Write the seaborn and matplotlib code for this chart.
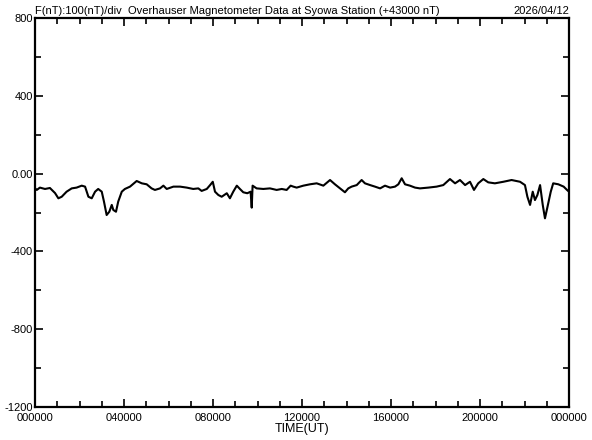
import matplotlib
matplotlib.use("Agg")
import matplotlib.pyplot as plt
import seaborn as sns
import pandas as pd
from matplotlib.ticker import MultipleLocator, FixedLocator

# time (hours UT) and field deviation (nT, relative to +43000 nT baseline)
hours = [0.00, 0.08, 0.22, 0.45, 0.67, 0.90, 1.05, 1.20, 1.42, 1.65, 1.87, 2.10, 2.25, 2.40,
         2.55, 2.70, 2.84, 3.00, 3.10, 3.22, 3.34, 3.45, 3.52, 3.64, 3.74, 3.90, 4.04, 4.27,
         4.57, 4.80, 5.02, 5.24, 5.39, 5.62, 5.77, 5.92, 6.22, 6.52, 6.82, 7.11, 7.34, 7.49,
         7.72, 7.87, 7.99, 8.09, 8.24, 8.39, 8.62, 8.76, 8.91, 9.07, 9.21, 9.36, 9.54, 9.69,
         9.74, 9.78, 9.96, 10.26, 10.56, 10.86, 11.09, 11.31, 11.49, 11.61, 11.76, 12.06,
         12.36, 12.66, 12.96, 13.26, 13.48, 13.71, 13.93, 14.08, 14.23, 14.46, 14.68, 14.83,
         15.06, 15.28, 15.51, 15.73, 15.96, 16.18, 16.33, 16.48, 16.63, 16.85, 17.08, 17.30,
         17.68, 18.05, 18.35, 18.65, 18.88, 19.10, 19.33, 19.55, 19.73, 19.92, 20.15, 20.37,
         20.67, 21.05, 21.42, 21.80, 22.02, 22.13, 22.25, 22.37, 22.47, 22.58, 22.70, 22.82,
         22.92, 23.02, 23.18, 23.29, 23.52, 23.76, 23.91, 24.00]
field = [-75, -84, -72, -79, -74, -100, -127, -119, -93, -76, -72, -62, -67, -119,
         -127, -93, -79, -93, -144, -213, -196, -161, -187, -196, -144, -93, -79, -67,
         -38, -50, -55, -76, -84, -76, -62, -79, -67, -67, -72, -79, -76, -89,
         -79, -59, -42, -93, -110, -119, -101, -127, -93, -62, -79, -96, -101, -93,
         -175, -62, -76, -79, -76, -84, -79, -84, -62, -67, -72, -62,
         -55, -50, -62, -33, -55, -76, -96, -76, -67, -59, -33, -50,
         -59, -67, -76, -62, -72, -67, -55, -24, -55, -62, -72, -76,
         -72, -67, -59, -28, -50, -33, -59, -42, -84, -50, -28, -45,
         -50, -42, -33, -42, -59, -119, -161, -93, -136, -110, -59, -161,
         -230, -178, -93, -50, -55, -67, -84, -93]

xtick_pos = [0, 4, 8, 12, 16, 20, 24]
xtick_labels = ["000000", "040000", "080000", "120000", "160000", "200000", "000000"]
ytick_pos = [800, 400, 0, -400, -800, -1200]
ytick_labels = ["800", "400", "0.00", "-400", "-800", "-1200"]

df = pd.DataFrame({"hour": hours, "field": field})

sns.set_style("ticks")
plt.rcParams["font.family"] = ["Liberation Sans", "DejaVu Sans"]
plt.rcParams["text.color"] = "black"
plt.rcParams["axes.labelcolor"] = "black"
plt.rcParams["xtick.color"] = "black"
plt.rcParams["ytick.color"] = "black"

fig = plt.figure(figsize=(5.92, 4.4), dpi=100)
ax = fig.add_axes([35 / 592, 1 - 407 / 440, 534 / 592, 389 / 440])

sns.lineplot(data=df, x="hour", y="field", ax=ax, color="black", linewidth=1.5, estimator=None)

ax.set_xlim(0, 24)
ax.set_ylim(-1200, 800)
ax.xaxis.set_major_locator(FixedLocator(xtick_pos))
ax.set_xticklabels(xtick_labels)
ax.xaxis.set_minor_locator(MultipleLocator(1))
ax.yaxis.set_major_locator(FixedLocator(ytick_pos))
ax.set_yticklabels(ytick_labels)
ax.yaxis.set_minor_locator(MultipleLocator(200))

ax.tick_params(which="both", direction="in", top=True, right=True, color="black",
               labelcolor="black", width=1.2)
ax.tick_params(which="major", length=6)
ax.tick_params(which="minor", length=4)
ax.tick_params(axis="x", which="major", labelsize=8, pad=4)
ax.tick_params(axis="y", which="major", labelsize=8, pad=1.5)

for s in ax.spines.values():
    s.set_color("black")
    s.set_linewidth(1.6)

ax.set_xlabel("TIME(UT)", fontsize=9, labelpad=0, color="black")
ax.set_ylabel("")

ax.text(0.0, 1.004, "F(nT):100(nT)/div  Overhauser Magnetometer Data at Syowa Station (+43000 nT)",
        transform=ax.transAxes, ha="left", va="bottom", fontsize=8, color="black")
ax.text(1.0, 1.004, "2026/04/12", transform=ax.transAxes, ha="right", va="bottom",
        fontsize=8, color="black")

fig.savefig("out.png", dpi=100, facecolor="white")
